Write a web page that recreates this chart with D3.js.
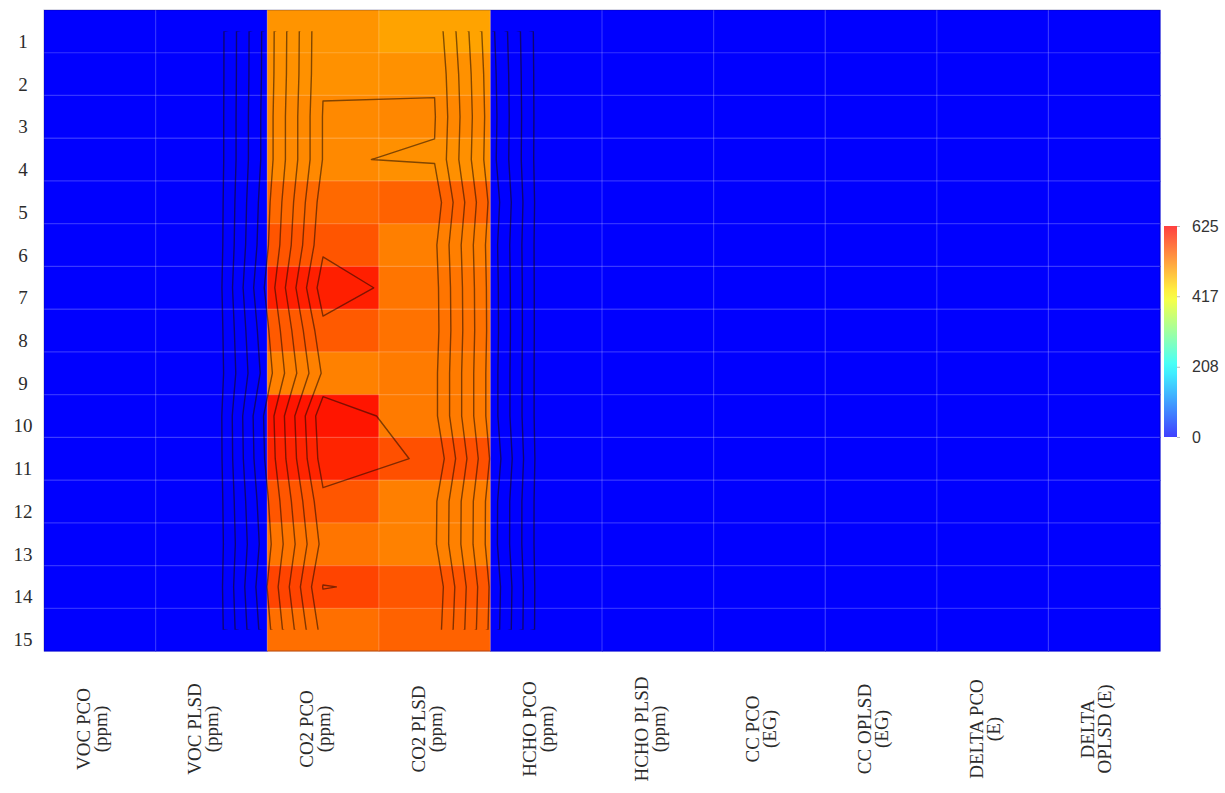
<!DOCTYPE html>
<html>
<head>
<meta charset="utf-8">
<script src="https://cdn.jsdelivr.net/npm/d3@7/dist/d3.min.js"></script>
<style>
  body { margin: 0; background: #fff; }
  svg { display: block; }
</style>
</head>
<body>
<div id="chart"></div>
<script>
// rows (samples) and columns (measures)
const rowLabels = ["1", "2", "3", "4", "5", "6", "7", "8", "9", "10", "11", "12", "13", "14", "15"];
const columnLabels = [
    ["VOC PCO", "(ppm)"],
    ["VOC PLSD", "(ppm)"],
    ["CO2 PCO", "(ppm)"],
    ["CO2 PLSD", "(ppm)"],
    ["HCHO PCO", "(ppm)"],
    ["HCHO PLSD", "(ppm)"],
    ["CC PCO", "(EG)"],
    ["CC OPLSD", "(EG)"],
    ["DELTA PCO", "(E)"],
    ["DELTA", "OPLSD (E)"]
];

// values per column, one per row
const vocPco    = [0, 0, 0, 0, 0, 0, 0, 0, 0, 0, 0, 0, 0, 0, 0];
const vocPlsd   = [0, 0, 0, 0, 0, 0, 0, 0, 0, 0, 0, 0, 0, 0, 0];
const co2Pco    = [505, 507, 514, 514, 540, 556, 600, 552, 520, 608, 596, 555, 530, 570, 535];
const co2Plsd   = [492, 507, 515, 508, 545, 522, 530, 532, 525, 525, 560, 522, 520, 555, 545];
const hchoPco   = [0, 0, 0, 0, 0, 0, 0, 0, 0, 0, 0, 0, 0, 0, 0];
const hchoPlsd  = [0, 0, 0, 0, 0, 0, 0, 0, 0, 0, 0, 0, 0, 0, 0];
const ccPco     = [0, 0, 0, 0, 0, 0, 0, 0, 0, 0, 0, 0, 0, 0, 0];
const ccOplsd   = [0, 0, 0, 0, 0, 0, 0, 0, 0, 0, 0, 0, 0, 0, 0];
const deltaPco  = [0, 0, 0, 0, 0, 0, 0, 0, 0, 0, 0, 0, 0, 0, 0];
const deltaOplsd = [0, 0, 0, 0, 0, 0, 0, 0, 0, 0, 0, 0, 0, 0, 0];

// contour levels (10 levels between 0 and 625) and colorbar ticks
const contourLevels = [56.8, 113.6, 170.5, 227.3, 284.1, 340.9, 397.7, 454.5, 511.4, 568.2];
const colorTicks = [0, 208, 417, 625];

const columns = [vocPco, vocPlsd, co2Pco, co2Plsd, hchoPco, hchoPlsd, ccPco, ccOplsd, deltaPco, deltaOplsd];

//set svg size
let w = 1225;
let h = 793;
let plotLeft = 44, plotRight = 1160, plotTop = 10, plotBottom = 651;

let svg = d3.select("#chart")
            .append("svg")
            .attr("width", w)
            .attr("height", h);

svg.append("rect").attr("width", w).attr("height", h).attr("fill", "#fff");

//band scales for cells
let xScale = d3.scaleBand()
                .domain(d3.range(columns.length))
                .range([plotLeft, plotRight]);

let yScale = d3.scaleBand()
                .domain(rowLabels)
                .range([plotTop, plotBottom]);

//grid scales for contours (grid units -> pixels)
let gx = d3.scaleLinear().domain([0, columns.length]).range([plotLeft, plotRight]);
let gy = d3.scaleLinear().domain([0, rowLabels.length]).range([plotTop, plotBottom]);

//jet-like color map
let color = d3.scaleLinear()
                .domain([0, 104, 208, 312, 417, 521, 625])
                .range(["#0000ff", "#0080ff", "#00ffff", "#80ff80", "#ffff00", "#ff8000", "#ff0000"])
                .clamp(true);

//cells
let cells = [];
columns.forEach((col, j) => col.forEach((v, i) => cells.push({ col: j, row: rowLabels[i], value: v })));

svg.append("g")
    .attr("class", "cells")
    .selectAll("rect")
    .data(cells)
    .enter()
    .append("rect")
    .attr("x", d => xScale(d.col))
    .attr("y", d => yScale(d.row))
    .attr("width", xScale.bandwidth() + 0.5)
    .attr("height", yScale.bandwidth() + 0.5)
    .attr("fill", d => color(d.value));

//faint grid lines on cell edges
let grid = svg.append("g").attr("class", "grid")
                .attr("stroke", "#ffffff")
                .attr("stroke-opacity", 0.2)
                .attr("stroke-width", 1.2);

grid.selectAll(".hline")
    .data(rowLabels.slice(1))
    .enter()
    .append("line")
    .attr("x1", plotLeft).attr("x2", plotRight)
    .attr("y1", d => yScale(d)).attr("y2", d => yScale(d));

grid.selectAll(".vline")
    .data(d3.range(1, columns.length))
    .enter()
    .append("line")
    .attr("y1", plotTop).attr("y2", plotBottom)
    .attr("x1", d => xScale(d)).attr("x2", d => xScale(d));

//contours computed on cell centres
let values = [];
rowLabels.forEach((r, i) => columns.forEach(col => values.push(col[i])));

let contours = d3.contours()
                    .size([columns.length, rowLabels.length])
                    .thresholds(contourLevels)(values);

let projection = d3.geoTransform({
    point: function(x, y) { this.stream.point(gx(x), gy(y)); }
});
let path = d3.geoPath(projection);

svg.append("clipPath")
    .attr("id", "centres")
    .append("rect")
    .attr("x", gx(0.5))
    .attr("y", gy(0.5))
    .attr("width", gx(columns.length - 0.5) - gx(0.5))
    .attr("height", gy(rowLabels.length - 0.5) - gy(0.5));

svg.append("g")
    .attr("class", "contours")
    .attr("clip-path", "url(#centres)")
    .selectAll("path")
    .data(contours)
    .enter()
    .append("path")
    .attr("d", path)
    .attr("fill", "none")
    .attr("stroke", "#1a0a00")
    .attr("stroke-opacity", 0.55)
    .attr("stroke-width", 1.4)
    .attr("stroke-linejoin", "round");

//plot border
svg.append("rect")
    .attr("x", plotLeft).attr("y", plotTop)
    .attr("width", plotRight - plotLeft).attr("height", plotBottom - plotTop)
    .attr("fill", "none")
    .attr("stroke", "#000050")
    .attr("stroke-opacity", 0.3);

//row labels
svg.append("g")
    .selectAll("text")
    .data(rowLabels)
    .enter()
    .append("text")
    .attr("x", 23)
    .attr("y", d => yScale(d) + yScale.bandwidth() / 2 + 10)
    .attr("text-anchor", "middle")
    .attr("dominant-baseline", "central")
    .style("font-family", "'Liberation Serif', serif")
    .style("font-size", "19px")
    .attr("fill", "#2b2b2b")
    .text(d => d);

//column labels, rotated
let colText = svg.append("g")
                .selectAll("g")
                .data(columnLabels)
                .enter()
                .append("g")
                .attr("transform", (d, i) => `translate(${xScale(i) + xScale.bandwidth() / 2 - 8}, 729) rotate(-90)`)
                .append("text")
                .attr("text-anchor", "middle")
                .style("font-family", "'Liberation Serif', serif")
                .style("font-size", "19px")
                .attr("fill", "#2b2b2b");

colText.selectAll("tspan")
    .data(d => d)
    .enter()
    .append("tspan")
    .attr("x", 0)
    .attr("y", (d, i) => i === 0 ? -8.5 : 8.5)
    .attr("dominant-baseline", "central")
    .text(d => d);

//colorbar
let cbScale = d3.scaleLinear().domain([0, 625]).range([437, 226]);

let grad = svg.append("defs")
                .append("linearGradient")
                .attr("id", "cbgrad")
                .attr("x1", 0).attr("y1", 1)
                .attr("x2", 0).attr("y2", 0);

grad.selectAll("stop")
    .data(d3.range(0, 1.0001, 0.05))
    .enter()
    .append("stop")
    .attr("offset", d => d)
    .attr("stop-color", d => color(d * 625));

svg.append("rect")
    .attr("x", 1164)
    .attr("y", cbScale(625))
    .attr("width", 13)
    .attr("height", cbScale(0) - cbScale(625))
    .attr("fill", "url(#cbgrad)")
    .attr("opacity", 0.75);

let cb = svg.append("g")
            .attr("transform", "translate(1177, 0)")
            .call(d3.axisRight(cbScale).tickValues(colorTicks).tickSize(3).tickFormat(d3.format("d")));

cb.select(".domain").remove();
cb.selectAll("line").attr("stroke", "#bbb");
cb.selectAll("text")
    .attr("x", 15)
    .attr("text-anchor", "start")
    .style("font-family", "'Liberation Sans', Arial, sans-serif")
    .style("font-size", "16px")
    .attr("fill", "#333");
</script>
</body>
</html>
